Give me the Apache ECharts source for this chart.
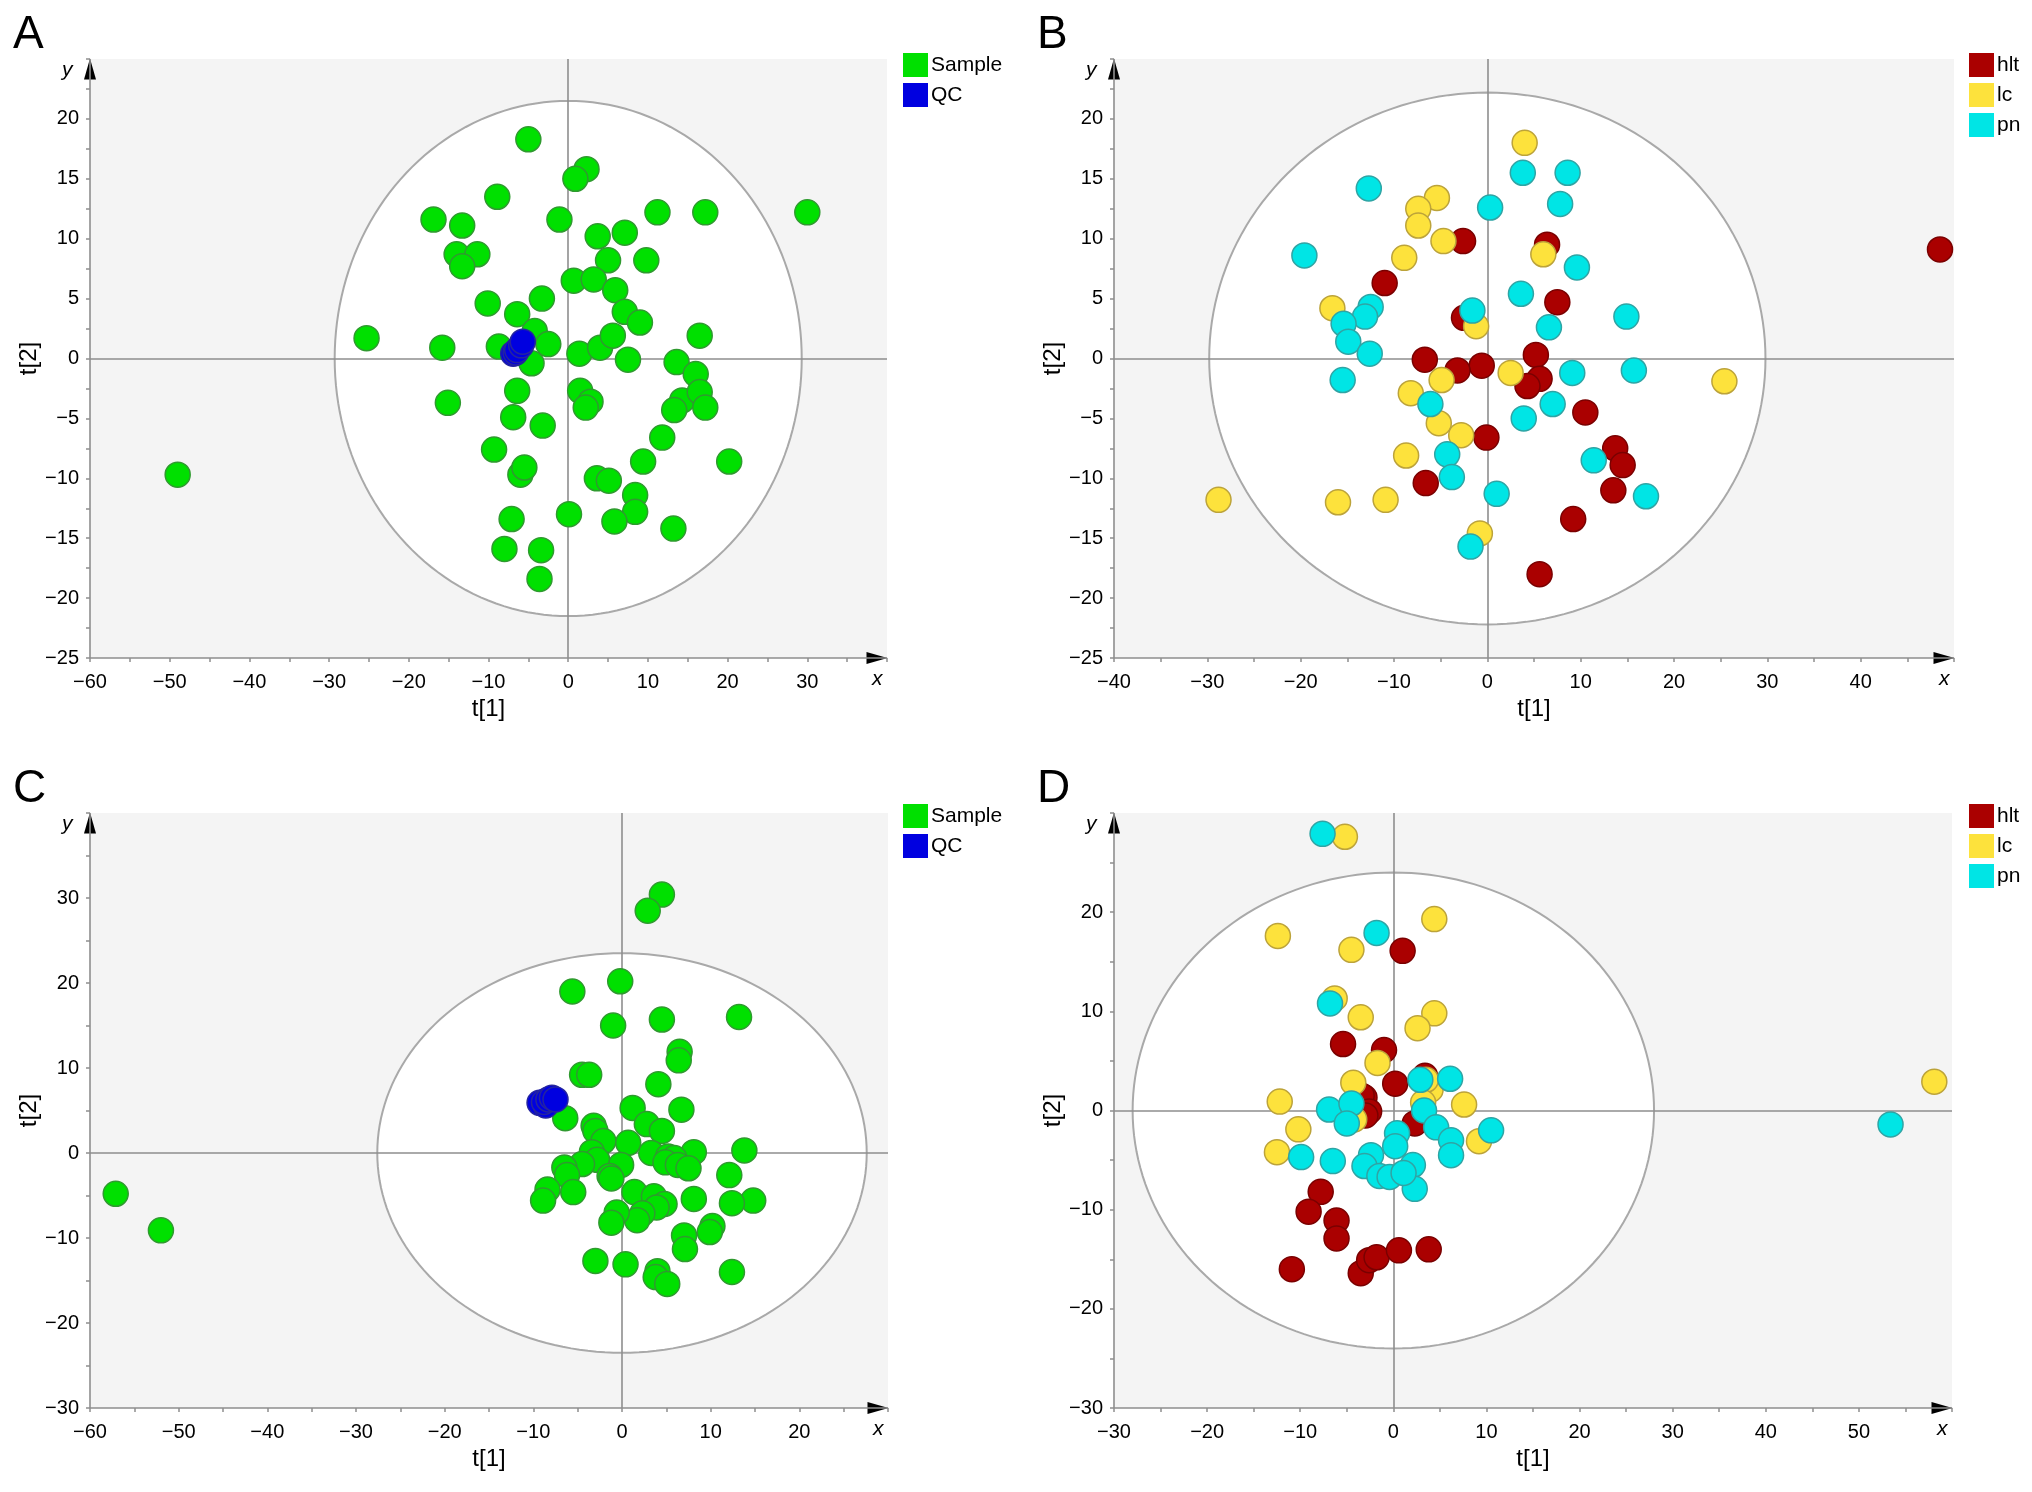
<!DOCTYPE html>
<html>
<head>
<meta charset="utf-8">
<script src="https://cdn.jsdelivr.net/npm/echarts/dist/echarts.min.js"></script>
<style>
  html, body { margin: 0; background: #fff; }
  #chart { width: 2032px; height: 1492px; }
</style>
</head>
<body>
<div id="chart"></div>
<script>
// score plot values, [t1, t2]
var sampleA = [
  [-5.0, 18.3], [2.3, 15.8], [0.9, 15.0], [-8.9, 13.5], [-16.9, 11.6], [-13.3, 11.1], [-1.1, 11.6],
  [11.2, 12.2], [17.2, 12.2], [30.0, 12.2], [3.7, 10.2], [7.1, 10.5], [-14.0, 8.7], [-11.4, 8.7],
  [-13.3, 7.7], [5.0, 8.2], [9.8, 8.2], [0.7, 6.5], [3.2, 6.6], [5.9, 5.7], [-10.1, 4.6],
  [-3.3, 5.0], [-6.4, 3.7], [7.1, 3.9], [9.0, 3.0], [-4.2, 2.3], [-25.3, 1.7], [-15.8, 0.9],
  [-8.7, 1.0], [-2.5, 1.2], [1.4, 0.4], [4.0, 0.9], [5.6, 1.9], [16.5, 1.9], [7.5, -0.1],
  [-4.6, -0.4], [13.6, -0.3], [16.0, -1.3], [-6.4, -2.7], [1.5, -2.7], [2.8, -3.6], [2.2, -4.1],
  [-15.1, -3.7], [14.3, -3.5], [13.3, -4.3], [16.5, -2.8], [17.2, -4.1], [-6.9, -4.9], [-3.2, -5.6],
  [11.8, -6.6], [-9.3, -7.6], [20.2, -8.6], [9.4, -8.6], [-6.0, -9.7], [-5.5, -9.1], [3.6, -10.0],
  [5.1, -10.2], [-49.0, -9.7], [8.4, -11.4], [8.4, -12.8], [0.1, -13.0], [5.8, -13.6], [-7.1, -13.4],
  [13.2, -14.2], [-8.0, -15.9], [-3.4, -16.0], [-3.6, -18.4]
];
var qcA = [[-6.9, 0.4], [-6.6, 0.5], [-6.4, 0.7], [-5.9, 1.1], [-5.7, 1.4]];

var hltB = [
  [-2.6, 9.8], [6.4, 9.5], [48.5, 9.1], [-11.0, 6.3], [7.5, 4.7], [-2.5, 3.4], [-6.7, -0.1],
  [-0.6, -0.6], [-3.2, -1.0], [5.2, 0.3], [5.6, -1.7], [4.3, -2.3], [10.5, -4.5], [-0.1, -6.6],
  [13.7, -7.5], [14.5, -8.9], [13.5, -11.0], [-6.6, -10.4], [9.2, -13.4], [5.6, -18.0]
];
var lcB = [
  [4.0, 18.0], [-5.4, 13.4], [-7.4, 12.5], [-7.4, 11.1], [-4.7, 9.8], [6.0, 8.7], [-8.9, 8.4],
  [-16.6, 4.2], [-1.2, 2.7], [2.5, -1.2], [-4.9, -1.8], [25.4, -1.9], [-8.2, -2.9], [-5.2, -5.4],
  [-2.8, -6.4], [-8.7, -8.1], [-28.8, -11.8], [-16.0, -12.0], [-10.9, -11.8], [-0.8, -14.6]
];
var pnB = [
  [-12.7, 14.2], [3.8, 15.5], [8.6, 15.5], [0.3, 12.6], [7.8, 12.9], [-19.6, 8.6], [9.6, 7.6],
  [3.6, 5.4], [-12.5, 4.3], [-13.1, 3.5], [-1.6, 4.0], [-15.4, 2.9], [6.6, 2.6], [14.9, 3.5],
  [-14.9, 1.4], [-12.6, 0.4], [9.1, -1.2], [15.7, -1.0], [-15.5, -1.8], [-6.1, -3.8], [7.0, -3.8],
  [3.9, -5.0], [-4.3, -8.0], [11.4, -8.5], [-3.8, -9.9], [1.0, -11.3], [17.0, -11.5], [-1.8, -15.7]
];

var sampleC = [
  [4.5, 30.4], [2.9, 28.5], [-0.2, 20.2], [-5.6, 19.0], [13.2, 16.0], [-1.0, 15.0], [4.5, 15.7],
  [6.5, 11.9], [6.4, 10.9], [-4.5, 9.2], [-3.7, 9.2], [4.1, 8.1], [1.2, 5.3], [6.7, 5.1],
  [-6.4, 4.1], [2.8, 3.4], [4.5, 2.6], [-3.2, 3.2], [-3.0, 2.6], [-2.1, 1.4], [0.7, 1.2],
  [8.1, 0.1], [13.8, 0.3], [3.3, 0.0], [5.2, -0.4], [5.9, -0.6], [4.9, -1.1], [6.3, -1.4],
  [7.5, -1.8], [-3.4, 0.1], [-2.8, -0.8], [-0.1, -1.4], [-4.5, -1.3], [-6.5, -1.7], [-6.2, -2.6],
  [-1.4, -2.7], [-1.2, -3.0], [12.1, -2.6], [14.8, -5.6], [12.4, -5.9], [8.1, -5.4], [-5.5, -4.6],
  [-8.4, -4.3], [-8.9, -5.6], [1.4, -4.6], [3.6, -5.1], [4.8, -6.0], [3.9, -6.4], [2.3, -7.1],
  [1.7, -7.9], [-0.6, -7.0], [-1.2, -8.2], [7.0, -9.7], [7.1, -11.3], [10.2, -8.6], [9.9, -9.3],
  [-3.0, -12.7], [0.4, -13.1], [12.4, -14.0], [4.0, -13.9], [3.8, -14.6], [5.1, -15.4],
  [-57.1, -4.8], [-52.0, -9.1]
];
var qcC = [[-9.3, 5.9], [-8.6, 5.6], [-8.8, 6.0], [-8.3, 6.3], [-7.9, 6.5], [-7.5, 6.3]];

var hltD = [
  [1.0, 16.1], [-5.4, 6.7], [-1.0, 6.1], [0.2, 2.7], [3.4, 3.5], [-3.1, 1.3], [-3.4, 1.5],
  [-2.6, -0.1], [-3.0, -0.5], [2.3, -1.3], [-7.8, -8.2], [-9.1, -10.2], [-6.1, -11.1], [-6.1, -12.9],
  [-10.9, -16.0], [-3.5, -16.4], [-2.6, -15.1], [-1.8, -14.8], [0.6, -14.1], [3.8, -14.0]
];
var lcD = [
  [-5.2, 27.6], [4.4, 19.3], [-12.4, 17.6], [-4.5, 16.2], [-6.3, 11.3], [-3.5, 9.4], [4.4, 9.8],
  [2.6, 8.3], [-1.7, 4.8], [-4.3, 2.8], [-12.2, 0.9], [4.0, 2.1], [3.5, 3.1], [7.6, 0.6],
  [-10.2, -1.9], [-12.5, -4.2], [9.2, -3.1], [58.1, 2.9], [-4.2, -0.9], [3.2, 0.8]
];
var pnD = [
  [-7.6, 27.9], [-1.8, 17.9], [-6.8, 10.8], [2.9, 3.1], [6.1, 3.2], [-6.9, 0.1], [-4.5, 0.7],
  [-5.0, -1.3], [3.3, 0.0], [4.6, -1.7], [0.4, -2.3], [0.2, -3.6], [10.5, -2.0], [6.2, -3.0],
  [6.2, -4.5], [-9.9, -4.7], [-6.5, -5.1], [-2.4, -4.5], [-3.1, -5.6], [2.1, -5.5], [-1.5, -6.6],
  [-0.4, -6.7], [2.3, -7.9], [1.1, -6.3], [53.4, -1.4]
];

// Hotelling T2 ellipse half-axes [t1, t2]
var ellipseA = [29.3, 21.5];
var ellipseB = [29.8, 22.2];
var ellipseC = [27.6, 23.5];
var ellipseD = [28.0, 24.0];

// axis ranges [min, max, interval]
var xRangeA = [-60, 40, 10], yRangeA = [-25, 25, 5];
var xRangeB = [-40, 50, 10], yRangeB = [-25, 25, 5];
var xRangeC = [-60, 30, 10], yRangeC = [-30, 40, 10];
var xRangeD = [-30, 60, 10], yRangeD = [-30, 30, 10];

var FONT = '"Liberation Sans", Arial, Helvetica, sans-serif';
var LINE = '#8e8e8e';

var colors = {
  Sample: ['#00e000', '#2f9a2f'],
  QC: ['#0000e0', '#2424a0'],
  hlt: ['#aa0000', '#7a0000'],
  lc: ['#fde23c', '#bca33a'],
  pn: ['#00e5e5', '#2fa4a4']
};

var panels = [
  { letter: 'A', grid: { left: 90, top: 59, width: 797, height: 599 }, x: xRangeA, y: yRangeA, ell: ellipseA,
    legend: { left: 898, top: 48 }, groups: [['Sample', sampleA], ['QC', qcA]] },
  { letter: 'B', grid: { left: 1114, top: 59, width: 840, height: 599 }, x: xRangeB, y: yRangeB, ell: ellipseB,
    legend: { left: 1964, top: 48 }, groups: [['hlt', hltB], ['lc', lcB], ['pn', pnB]] },
  { letter: 'C', grid: { left: 90, top: 813, width: 798, height: 595 }, x: xRangeC, y: yRangeC, ell: ellipseC,
    legend: { left: 898, top: 799 }, groups: [['Sample', sampleC], ['QC', qcC]] },
  { letter: 'D', grid: { left: 1114, top: 813, width: 838, height: 595 }, x: xRangeD, y: yRangeD, ell: ellipseD,
    legend: { left: 1964, top: 799 }, groups: [['hlt', hltD], ['lc', lcD], ['pn', pnD]] }
];

function minus(v) { return String(v).replace('-', '\u2212'); }

function ellipseItem(ab) {
  return function (params, api) {
    var pts = [];
    for (var i = 0; i <= 180; i++) {
      var t = i / 180 * Math.PI * 2;
      pts.push(api.coord([ab[0] * Math.cos(t), ab[1] * Math.sin(t)]));
    }
    return {
      type: 'polygon',
      shape: { points: pts },
      style: { fill: '#ffffff', stroke: '#a9a9a9', lineWidth: 2 }
    };
  };
}

function axis(r, gi, isX) {
  return {
    type: 'value', gridIndex: gi, min: r[0], max: r[1], interval: r[2],
    splitLine: { show: false },
    axisLine: {
      show: true, onZero: false,
      symbol: ['none', 'triangle'], symbolSize: [12, 21], symbolOffset: [0, -10],
      lineStyle: { color: '#000', opacity: 0 }
    },
    axisTick: { show: true, length: 4, lineStyle: { color: LINE, width: 1.5 } },
    minorTick: { show: true, splitNumber: 2, length: 4, lineStyle: { color: LINE, width: 1.5 } },
    axisLabel: {
      fontSize: 20, color: '#000', fontFamily: FONT, margin: isX ? 14 : 11,
      showMaxLabel: false, formatter: minus
    },
    name: isX ? 't[1]' : 't[2]', nameLocation: 'middle', nameGap: isX ? 39 : 40,
    nameTextStyle: { fontSize: 24, color: '#000', fontFamily: FONT }
  };
}

var option = {
  animation: false,
  backgroundColor: '#fff',
  grid: [], xAxis: [], yAxis: [], legend: [], series: [], graphic: []
};

panels.forEach(function (p, i) {
  option.grid.push({
    left: p.grid.left, top: p.grid.top, width: p.grid.width, height: p.grid.height,
    show: true, backgroundColor: '#f4f4f4', borderWidth: 0, outerBoundsMode: 'none'
  });
  option.xAxis.push(axis(p.x, i, true));
  option.yAxis.push(axis(p.y, i, false));

  option.series.push({
    type: 'custom', xAxisIndex: i, yAxisIndex: i, z: 1, silent: true,
    renderItem: ellipseItem(p.ell), data: [[0, 0]]
  });

  p.groups.forEach(function (g, k) {
    var s = {
      type: 'scatter', name: g[0], xAxisIndex: i, yAxisIndex: i, z: 10,
      data: g[1], symbolSize: 25,
      itemStyle: { color: colors[g[0]][0], borderColor: colors[g[0]][1], borderWidth: 1.5, opacity: 1 }
    };
    if (k === 0) {
      s.markLine = {
        silent: true, symbol: ['none', 'none'], label: { show: false },
        lineStyle: { color: LINE, width: 1.6, type: 'solid' },
        data: [{ xAxis: 0 }, { yAxis: 0 }, { xAxis: p.x[0] }, { yAxis: p.y[0] }]
      };
    }
    option.series.push(s);
  });

  option.legend.push({
    left: p.legend.left, top: p.legend.top, orient: 'vertical',
    icon: 'rect', itemWidth: 25, itemHeight: 24, itemGap: 6,
    itemStyle: { borderWidth: 0 },
    textStyle: { fontSize: 21, color: '#000', fontFamily: FONT, padding: [0, 0, 0, -2] },
    data: p.groups.map(function (g) { return g[0]; })
  });

  var g = p.grid;
  option.graphic.push(
    { type: 'text', left: g.left - 77, top: g.top - 47,
      style: { text: p.letter, font: '46px ' + FONT, fill: '#000' } },
    { type: 'text', left: g.left - 28, top: g.top + 1,
      style: { text: 'y', font: 'italic 21px ' + FONT, fill: '#000' } },
    { type: 'text', left: g.left + g.width - 15, top: g.top + g.height + 11,
      style: { text: 'x', font: 'italic 21px ' + FONT, fill: '#000' } }
  );
});

var myChart = echarts.init(document.getElementById('chart'), null, { renderer: 'canvas' });
myChart.setOption(option);
</script>
</body>
</html>
